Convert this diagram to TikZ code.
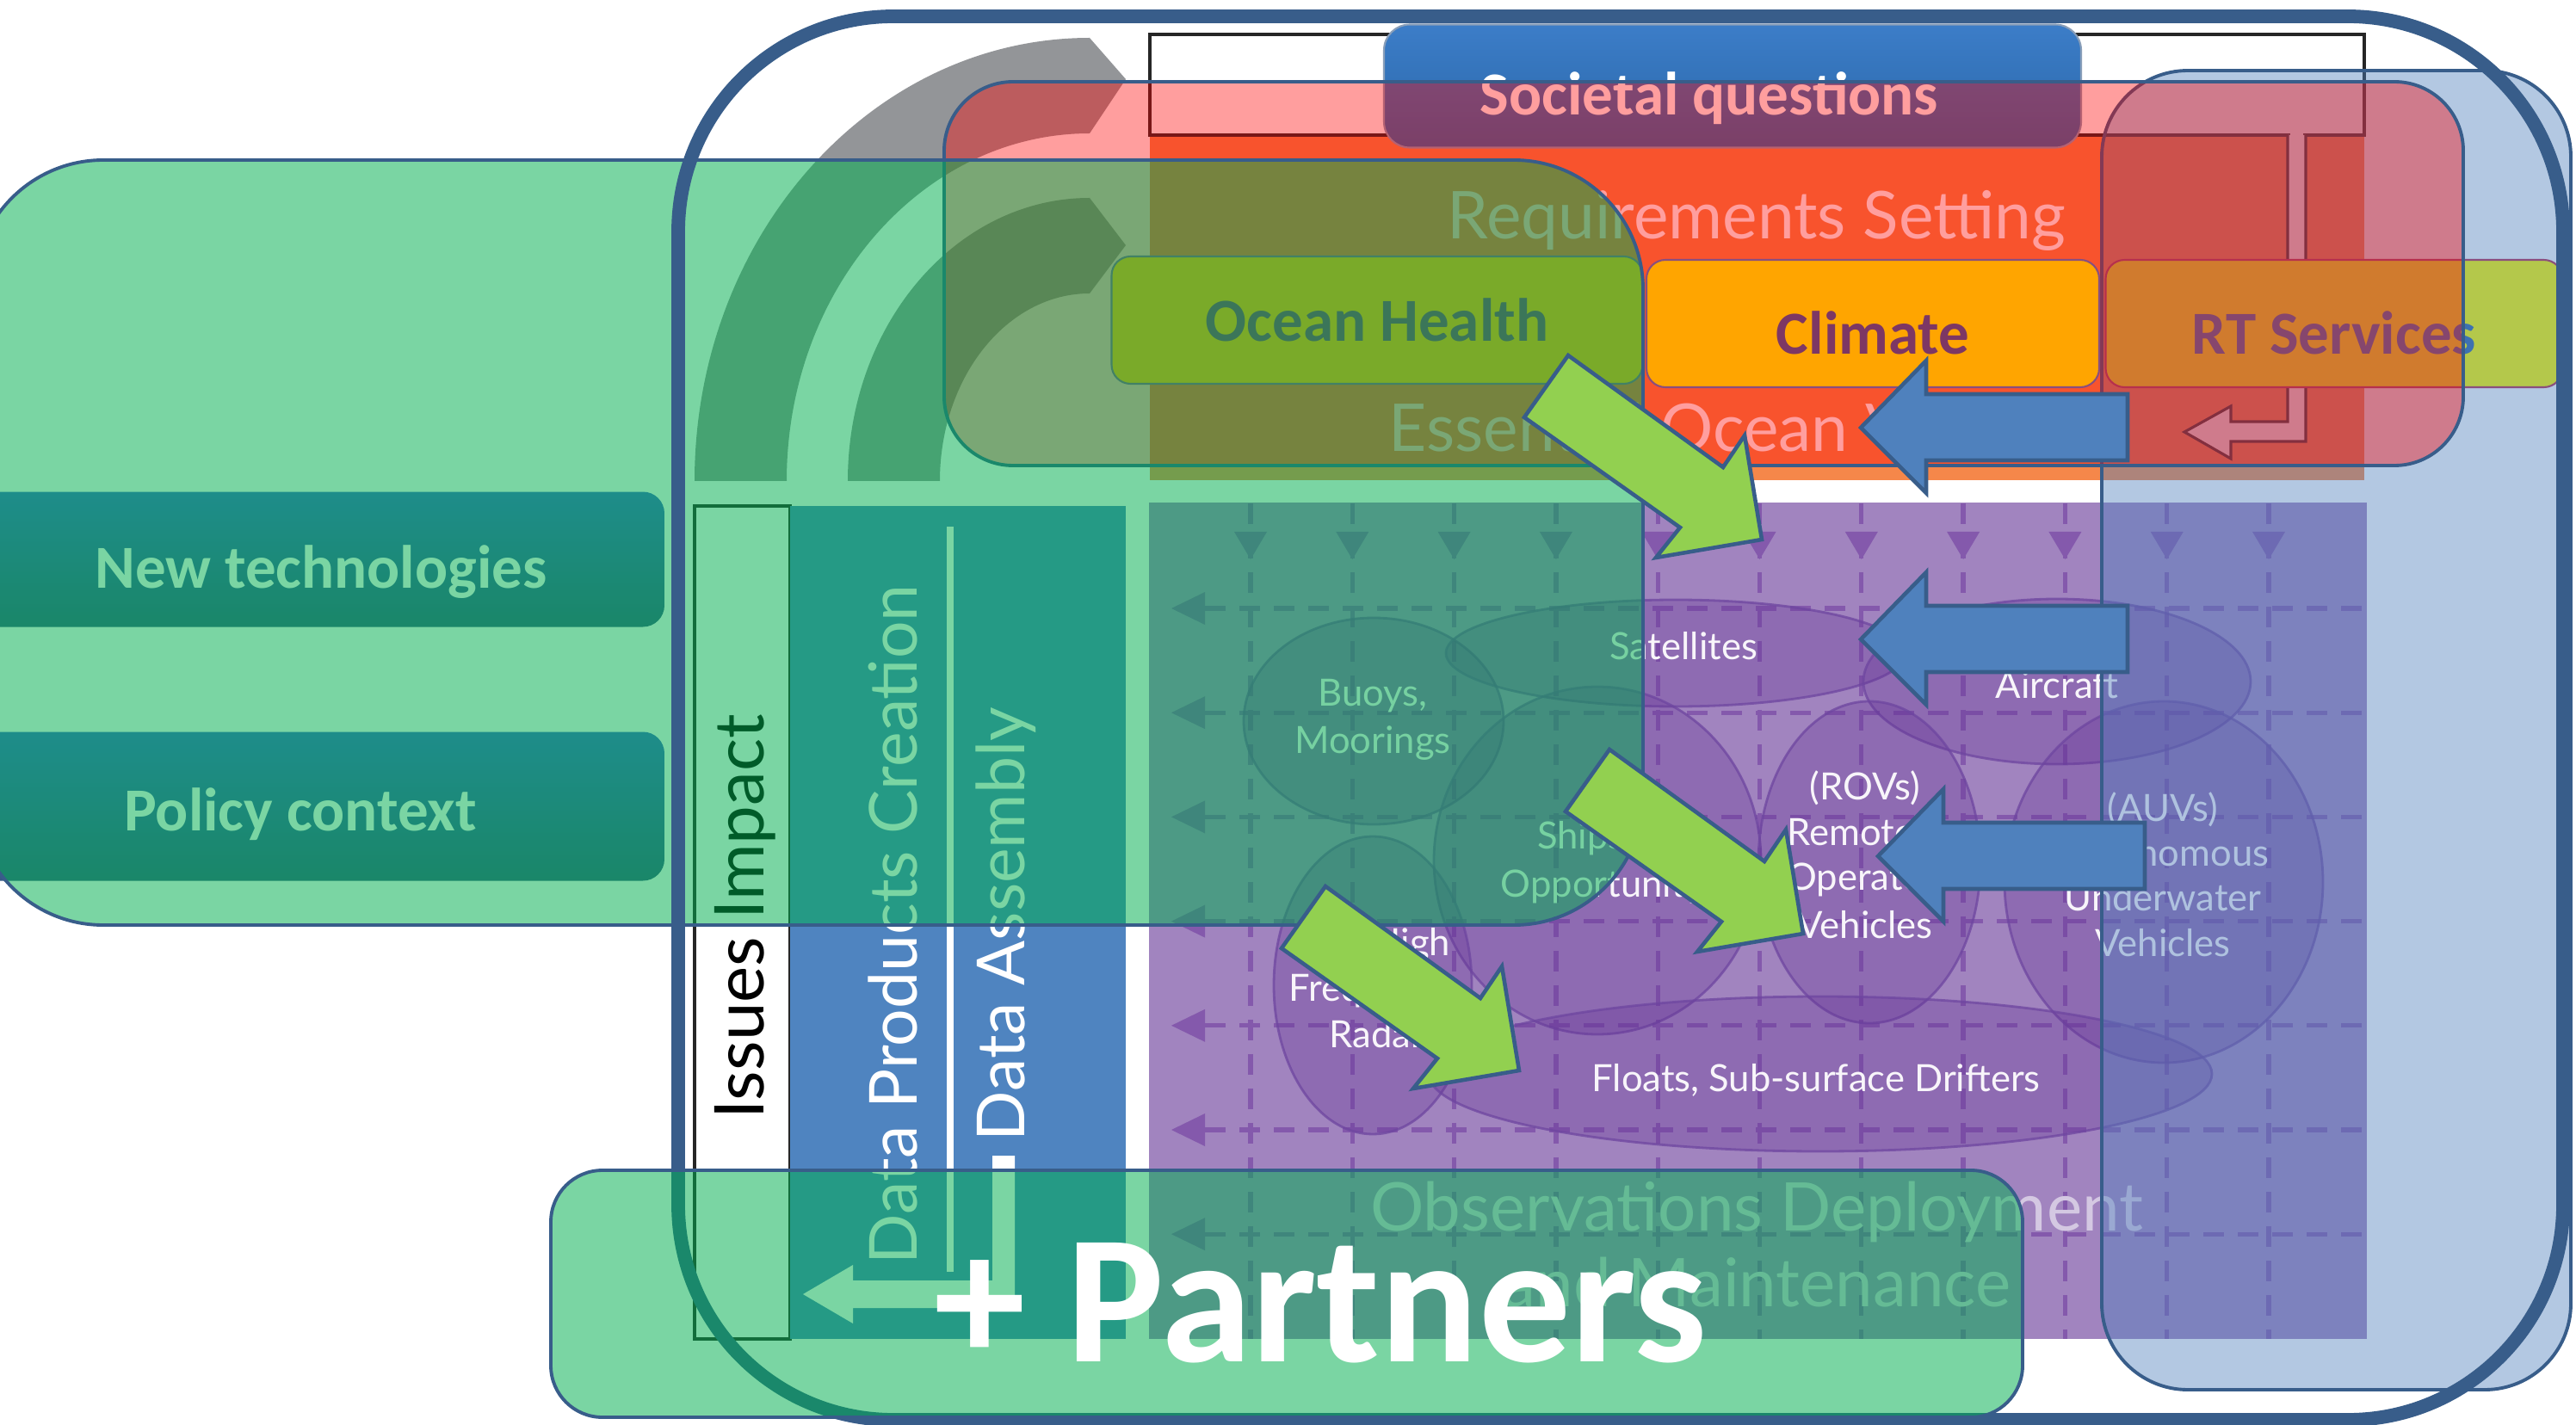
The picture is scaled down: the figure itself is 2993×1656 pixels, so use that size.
\documentclass[tikz,border=0pt]{standalone}
\usepackage{fontspec}
\setmainfont{Lato}
\newfontfamily\calibri{Carlito}
\usetikzlibrary{positioning}

\definecolor{frameblue}{HTML}{385D8A}
\definecolor{ovgreen}{HTML}{00B050}
\definecolor{ovred}{HTML}{FF0000}
\definecolor{ovblue}{HTML}{4F81BD}
\definecolor{reqorange}{HTML}{F5874A}
\definecolor{obspurple}{HTML}{A184BF}
\definecolor{gridpurple}{HTML}{8459AC}
\definecolor{arcgray}{HTML}{939598}
\definecolor{colblue}{HTML}{4F84C0}
\definecolor{tagorange}{HTML}{FFA500}
\definecolor{taglime}{HTML}{B4C84B}
\definecolor{tagtext}{HTML}{7D3764}
\definecolor{rttext}{HTML}{3D71B1}
\definecolor{tagedge}{HTML}{8A4F7D}
\definecolor{arrowgreen}{HTML}{92D050}
\definecolor{ellfill}{HTML}{643296}
\definecolor{elledge}{HTML}{6E46A0}
\definecolor{obstext}{HTML}{D4C8E2}
\definecolor{societaltop}{HTML}{3C7DC8}
\definecolor{societalbottom}{HTML}{2A67A8}

\begin{document}
\begin{tikzpicture}[
x = 0.1mm, y = -0.1mm,
every node/.style = {
	inner sep = 0pt
},
glass/.style = {
	draw = frameblue,
	line width = 1.1pt
},
tagbox/.style = {
	draw = tagedge,
	line width = .6pt,
	rounded corners = 2.2mm,
	minimum height = 14.8mm,
	text = tagtext,
	font = \calibri\bfseries\fontsize{20.2}{24}\selectfont
},
sidebox/.style = {
	rounded corners = 2.5mm,
	top color = blue!20!ovblue,
	bottom color = ovblue!70!black,
	minimum width = 79.8mm
},
boldtext/.style = {
	text = white,
	anchor = base,
	font = \calibri\bfseries\fontsize{20.2}{24}\selectfont
},
bglabel/.style = {
	text = white,
	anchor = base west,
	font = \fontsize{21.8}{25}\selectfont
},
coltext/.style = {
	rotate = 90,
	anchor = base west,
	font = \fontsize{21.9}{26}\selectfont
},
obslabel/.style = {
	text = obstext,
	anchor = base,
	font = \fontsize{22.2}{26}\selectfont
},
eov/.style = {
	draw = elledge,
	draw opacity = .75,
	line width = .8pt,
	fill = ellfill,
	fill opacity = .3
},
eovlabel/.style = {
	text = white!92!obspurple,
	anchor = base,
	font = \fontsize{12.4}{15}\selectfont
},
gridline/.style = {
	draw = gridpurple,
	line width = 1.5pt,
	dash pattern = on 2.4mm off 1.6mm
},
greenarrow/.style = {
	draw = frameblue,
	fill = arrowgreen,
	line width = 1.3pt
},
bluearrow/.style = {
	draw = frameblue,
	fill = ovblue,
	line width = 1.3pt
}
]

\clip (0,0) rectangle (2993,1656);
\fill [white] (0,0) rectangle (2993,1656);

% framework picture underneath
\fill [arcgray] (807,559) arc [start angle = 180, end angle = 270, x radius = 459, y radius = 515]
	-- (1308,92) -- (1266,155)
	arc [start angle = 270, end angle = 180, x radius = 352, y radius = 404] -- cycle;
\fill [arcgray] (985,559) arc [start angle = 180, end angle = 270, x radius = 281, y radius = 329]
	-- (1308,285) -- (1266,341)
	arc [start angle = 270, end angle = 180, x radius = 174, y radius = 218] -- cycle;

\fill [reqorange] (1336,157) rectangle (2747,558);
\draw [black!85, line width = .9pt, fill = white] (1336,40) rectangle (2747,157);
\fill [white] (2661,150) rectangle (2676,166);
\draw [black!85, line width = .9pt, fill = white] (2658,157) -- (2658,490) -- (2592,490) -- (2592,472)
	-- (2538,502) -- (2592,533) -- (2592,513) -- (2679,513) -- (2679,157);
\node (req_text) [bglabel] at (1681,278) {Requirements Setting};
\node (eov_text) [bglabel] at (1613,525) {Essential Ocean Variables};

\draw [black!85, line width = .9pt, fill = white] (807,588) rectangle (918,1556);
\fill [colblue] (918,588) rectangle (1308,1556);
\fill [white] (1100,612) rectangle (1108,1478);
\fill [white] (1153,1343) -- (1179,1343) -- (1179,1520) -- (991,1520) -- (991,1538)
	-- (933,1504) -- (991,1470) -- (991,1488) -- (1153,1488) -- cycle;
\node (issues_text) [coltext, text = black, font = \fontsize{22.7}{26}\selectfont] at (887,1301) {Issues Impact};
\node (products_text) [coltext, text = white] at (1065,1470) {Data Products Creation};
\node (assembly_text) [coltext, text = white] at (1190,1327) {Data Assembly};

\fill [obspurple] (1335,584) rectangle (2750,1556);
\foreach \gx in {0,...,10} {
	\draw [gridline] ({1453 + 118.3*\gx}, 585) -- ({1453 + 118.3*\gx}, 1556);
	\fill [gridpurple] ({1434 + 118.3*\gx}, 618) -- ({1472 + 118.3*\gx}, 618) -- ({1453 + 118.3*\gx}, 650) -- cycle;
}
\foreach \gy in {0,...,6} {
	\draw [gridline] (1400, {707 + 121.2*\gy}) -- (2750, {707 + 121.2*\gy});
	\fill [gridpurple] (1361, {707 + 121.2*\gy}) -- (1400, {688 + 121.2*\gy}) -- (1400, {726 + 121.2*\gy}) -- cycle;
}
\foreach \cx/\cy/\rx/\ry in {1596/838/151/120, 1947/759/267/62, 2390/792/225/96,
	1856/1000/190/202, 1595/1145/115/173, 2172/1002/129/187, 2514/1025/185/210, 2115/1248/455/90}
	\draw [eov] (\cx,\cy) ellipse [x radius = \rx, y radius = \ry];

\node (buoys) [eovlabel] at (1595,820) {Buoys,};
\node (moorings) [eovlabel] at (1595,875) {Moorings};
\node (satellites) [eovlabel] at (1956,766) {Satellites};
\node (aircraft) [eovlabel] at (2390,811) {Aircraft};
\node (ships) [eovlabel] at (1862,986) {Ships of};
\node (opportunity) [eovlabel] at (1862,1042) {Opportunity};
\node (high) [eovlabel] at (1640,1110) {High};
\node (frequency) [eovlabel] at (1598,1163) {Frequency};
\node (radar) [eovlabel] at (1600,1217) {Radar};
\node (rovs) [eovlabel] at (2167,929) {(ROVs)};
\node (remotely) [eovlabel] at (2167,982) {Remotely};
\node (operated) [eovlabel] at (2167,1034) {Operated};
\node (rov_vehicles) [eovlabel] at (2167,1090) {Vehicles};
\node (auvs) [eovlabel] at (2513,954) {(AUVs)};
\node (autonomous) [eovlabel] at (2513,1006) {Autonomous};
\node (underwater) [eovlabel] at (2513,1058) {Underwater};
\node (auv_vehicles) [eovlabel] at (2513,1111) {Vehicles};
\node (floats) [eovlabel] at (2110,1268) {Floats, Sub-surface Drifters};

\node (obs_line1) [obslabel] at (2041,1430) {Observations Deployment};
\node (obs_line2) [obslabel] at (2041,1518) {and Maintenance};

% boxes and glass layers on top
\node (societal) [draw = frameblue!60, line width = .6pt, rounded corners = 3mm,
	top color = societaltop, bottom color = societalbottom,
	minimum width = 81mm, minimum height = 14.3mm] at (2013,100) {};
\node (societal_text) [boldtext] at (1986,134) {Societal questions};

\draw [glass, fill = ovblue, fill opacity = .43, rounded corners = 10mm] (2442,82) rectangle (2987,1615);
\node (rt_services) [tagbox, fill = taglime, text = rttext, minimum width = 53.1mm, text height = 7.2mm] at (2712,376) {RT Services};
\draw [glass, fill = ovred, fill opacity = .38, rounded corners = 8mm] (1097,95) rectangle (2862,541);
\node (climate) [tagbox, fill = tagorange, minimum width = 52.6mm, text height = 7.2mm] at (2176,376) {Climate};
\node (ocean_health) [tagbox, fill = tagorange, minimum width = 61.7mm] at (1600,372) {Ocean Health};

\node (tech_box) [sidebox, minimum height = 15.7mm] at (373,650) {};
\node (tech_text) [boldtext] at (373,683) {New technologies};
\node (policy_box) [sidebox, minimum height = 17.3mm] at (373,937) {};
\node (policy_text) [boldtext] at (349,965) {Policy context};

\draw [glass, fill = ovgreen, fill opacity = .52, rounded corners = 15mm] (-30,186) rectangle (1909,1075);

\draw [frameblue, line width = 4.5pt, rounded corners = 25mm] (788,19) rectangle (2978,1650);

\foreach \dx/\dy in {0/0, 48/458, -282/617}
	\draw [greenarrow, shift = {(\dx,\dy)}] (1822,413) -- (2002,543) -- (2027,506) -- (2047,627)
		-- (1924,648) -- (1952,613) -- (1771,485) -- cycle;
\foreach \dx/\dy in {0/0, 0/246, 20/498}
	\draw [bluearrow, shift = {(\dx,\dy)}] (2162,497) -- (2238,419) -- (2238,458) -- (2472,458)
		-- (2472,535) -- (2238,535) -- (2238,573) -- cycle;

\draw [glass, fill = ovgreen, fill opacity = .52, rounded corners = 6mm] (640,1360) rectangle (2350,1647);
\node (partners) [text = white, anchor = base west, font = \calibri\bfseries\fontsize{60.6}{70}\selectfont] at (1085,1582) {+ Partners};

\end{tikzpicture}
\end{document}
